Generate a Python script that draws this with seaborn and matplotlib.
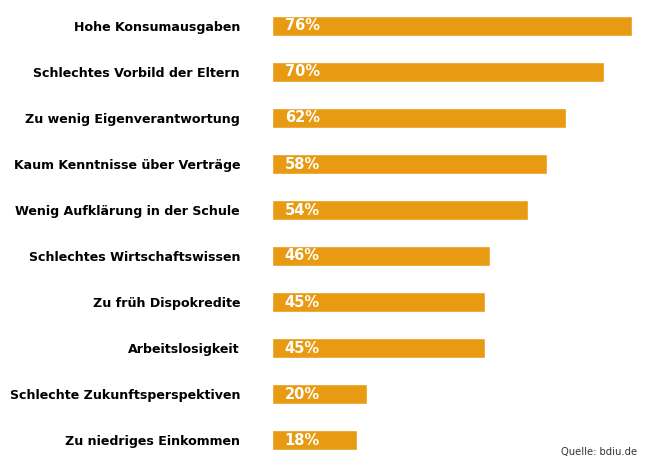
import matplotlib
matplotlib.use('Agg')
import matplotlib.pyplot as plt
import seaborn as sns
import pandas as pd

# Data
reasons = ['Hohe Konsumausgaben', 'Schlechtes Vorbild der Eltern', 'Zu wenig Eigenverantwortung',
           'Kaum Kenntnisse über Verträge', 'Wenig Aufklärung in der Schule',
           'Schlechtes Wirtschaftswissen', 'Zu früh Dispokredite', 'Arbeitslosigkeit',
           'Schlechte Zukunftsperspektiven', 'Zu niedriges Einkommen']
shares = [76, 70, 62, 58, 54, 46, 45, 45, 20, 18]
value_labels = ['76%', '70%', '62%', '58%', '54%', '46%', '45%', '45%', '20%', '18%']
source = 'Quelle: bdiu.de'

df = pd.DataFrame({'reason': reasons, 'share': shares})

sns.set_style('white')
plt.rcParams['font.family'] = ['DejaVu Sans']

fig = plt.figure(figsize=(6.5, 4.65), dpi=100)
ax = fig.add_axes([272 / 650, 1 - 463 / 465, (632 - 272) / 650, 460 / 465])

sns.barplot(data=df, x='share', y='reason', orient='h', color='#E89B12',
            saturation=1, width=0.45, ax=ax)

ax.set_xlim(0, 76)
ax.set_ylim(9.5, -0.5)
ax.set_xlabel('')
ax.set_ylabel('')
ax.set_xticks([])
ax.tick_params(axis='y', length=0, pad=23)
for t in ax.get_yticklabels():
    t.set_fontweight('bold')
    t.set_fontsize(9.1)
    t.set_color('black')
sns.despine(ax=ax, left=True, bottom=True)

# percentages inside bars
for i, lab in enumerate(value_labels):
    ax.text(2.7, i, lab, color='white', fontweight='bold', fontsize=10.5,
            va='center', ha='left')

fig.text(637 / 650, 1 - 452 / 465, source, ha='right', va='center',
         fontsize=7.2, color='#333333')

fig.savefig('out.png', dpi=100)
